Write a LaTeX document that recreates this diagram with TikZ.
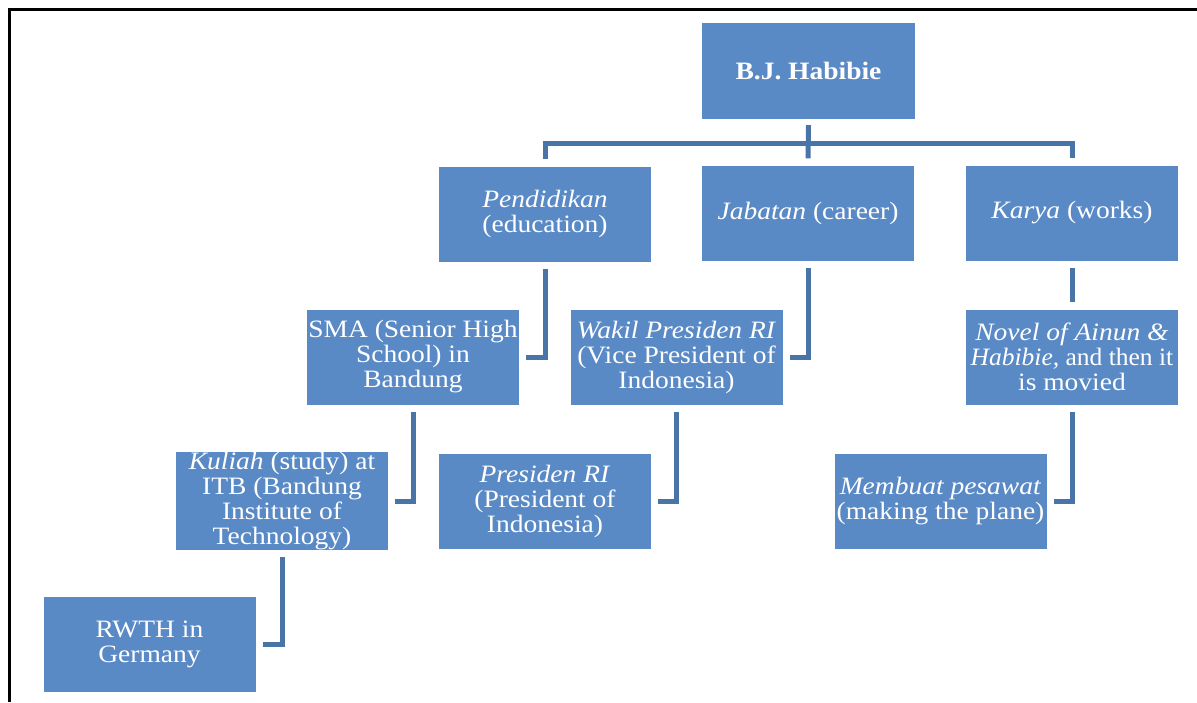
\documentclass[tikz,border=0pt]{standalone}
\usepackage{fontspec}
\setmainfont{Liberation Serif}[FakeStretch=1.1]
\definecolor{boxfill}{RGB}{90,138,198}
\definecolor{linec}{RGB}{72,116,168}
\tikzset{
  box/.style={fill=boxfill, draw=none, minimum width=212pt, minimum height=95pt, inner sep=0pt, align=center, text=white, font=\fontsize{25}{25}\selectfont},
  conn/.style={draw=linec, line width=5pt, line join=miter}
}
\newcommand{\fitline}[1]{\makebox[212pt]{#1}}
\begin{document}
\begin{tikzpicture}[x=1pt,y=-1pt]
\useasboundingbox (0,0) rectangle (1197,702);
\draw[line width=3pt] (9.5,702) -- (9.5,9.5) -- (1197,9.5);
\node[box, minimum height=96pt, minimum width=213pt] (hab) at (808.5,71) {\textbf{B.J. Habibie}};
\node[box] (pend) at (545,214) {\textit{Pendidikan}\\(education)};
\node[box] (jab) at (808,213) {\textit{Jabatan} (career)};
\node[box] (karya) at (1072,213) {\textit{Karya} (works)};
\node[box] (sma) at (413,357) {\fitline{SMA (Senior High}\\School) in\\Bandung};
\node[box] (wakil) at (676.5,357) {\fitline{\textit{Wakil Presiden RI}}\\\fitline{(Vice President of}\\Indonesia)};
\node[box] (novel) at (1072,357) {\fitline{\textit{Novel of Ainun \&}}\\\fitline{\addfontfeature{FakeStretch=1.02}\textit{Habibie,} and then it}\\is movied};
\node[box] (kuliah) at (282,501) {\fitline{\textit{Kuliah} (study) at}\\ITB (Bandung\\Institute of\\Technology)};
\node[box] (pres) at (545,501) {\textit{Presiden RI}\\(President of\\Indonesia)};
\node[box] (memb) at (940.5,501) {\fitline{\textit{Membuat pesawat}}\\\fitline{(making the plane)}};
\node[box] (rwth) at (149.5,644) {RWTH in\\Germany};
\coordinate (bus) at (808,143);
\draw[conn] ([yshift=-6pt]hab.south) -- ([yshift=7pt]jab.north);
\draw[conn] ([yshift=7pt]pend.north) -- (pend.north |- bus) -- (karya.north |- bus) -- ([yshift=7pt]karya.north);
\draw[conn] ([yshift=-7pt]pend.south) |- ([xshift=7pt]sma.east);
\draw[conn] ([yshift=-7pt]jab.south) |- ([xshift=7pt]wakil.east);
\draw[conn] ([yshift=-7pt]karya.south) -- ([yshift=7pt]novel.north);
\draw[conn] ([yshift=-7pt]sma.south) |- ([xshift=7pt]kuliah.east);
\draw[conn] ([yshift=-7pt]wakil.south) |- ([xshift=7pt]pres.east);
\draw[conn] ([yshift=-7pt]novel.south) |- ([xshift=7pt]memb.east);
\draw[conn] ([yshift=-7pt]kuliah.south) |- ([xshift=7pt]rwth.east);
\end{tikzpicture}
\end{document}
